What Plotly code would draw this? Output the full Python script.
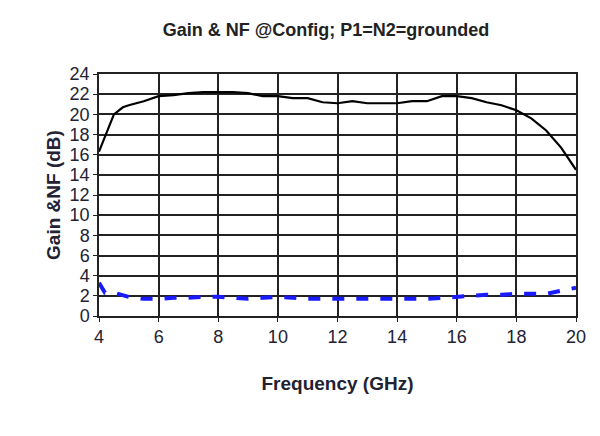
import plotly.graph_objects as go

freq = [4, 4.2, 4.5, 4.8, 5, 5.5, 6, 6.5, 7, 7.5, 8, 8.5, 9, 9.5, 10, 10.5, 11, 11.5, 12, 12.5, 13, 13.5, 14, 14.5, 15, 15.5, 16, 16.5, 17, 17.5, 18, 18.5, 19, 19.5, 20]
gain = [16.3, 17.8, 20.0, 20.7, 20.9, 21.3, 21.8, 21.9, 22.1, 22.2, 22.2, 22.2, 22.1, 21.8, 21.8, 21.6, 21.6, 21.2, 21.1, 21.3, 21.1, 21.1, 21.1, 21.3, 21.3, 21.8, 21.8, 21.6, 21.2, 20.9, 20.4, 19.6, 18.4, 16.7, 14.5]
nf = [3.3, 2.3, 2.3, 2.1, 1.9, 1.7, 1.7, 1.8, 1.8, 1.9, 1.9, 1.8, 1.7, 1.8, 1.9, 1.8, 1.7, 1.7, 1.7, 1.7, 1.7, 1.7, 1.7, 1.7, 1.7, 1.8, 1.9, 2.0, 2.1, 2.1, 2.2, 2.2, 2.2, 2.5, 2.8]

fig = go.Figure()
fig.add_trace(go.Scatter(x=freq, y=gain, mode="lines", line=dict(color="black", width=2.2)))
fig.add_trace(go.Scatter(x=freq, y=nf, mode="lines", line=dict(color="#1a1aff", width=4, dash="dash")))

font_ax = dict(family="Liberation Sans, Arial", size=18, color="#222233")
fig.update_layout(
    width=600, height=436, showlegend=False,
    paper_bgcolor="white", plot_bgcolor="white",
    margin=dict(l=91, r=32, t=66, b=128),
    title=dict(text="<b>Gain & NF @Config; P1=N2=grounded</b>", x=0.53, xanchor="center",
               y=0.95, yanchor="middle",
               font=dict(family="Liberation Sans, Arial", size=18, color="#222")),
    font=font_ax,
)
fig.update_xaxes(range=[4, 20], tickvals=list(range(4, 21, 2)), showgrid=True, gridcolor="#222", gridwidth=1.5,
                 showline=True, linecolor="#222", linewidth=1.5, mirror=True, ticks="outside", ticklen=4,
                 tickcolor="#222", zeroline=False,
                 title=dict(text="<b>Frequency (GHz)</b>", font=dict(size=19), standoff=30))
fig.update_yaxes(range=[0, 24], tickvals=list(range(0, 25, 2)), showgrid=True, gridcolor="#222", gridwidth=1.5,
                 showline=True, linecolor="#222", linewidth=1.5, mirror=True, ticks="outside", ticklen=4,
                 tickcolor="#222", zeroline=False,
                 title=dict(text="<b>Gain &NF (dB)</b>", font=dict(size=19), standoff=4))
fig.write_html("out.html")
